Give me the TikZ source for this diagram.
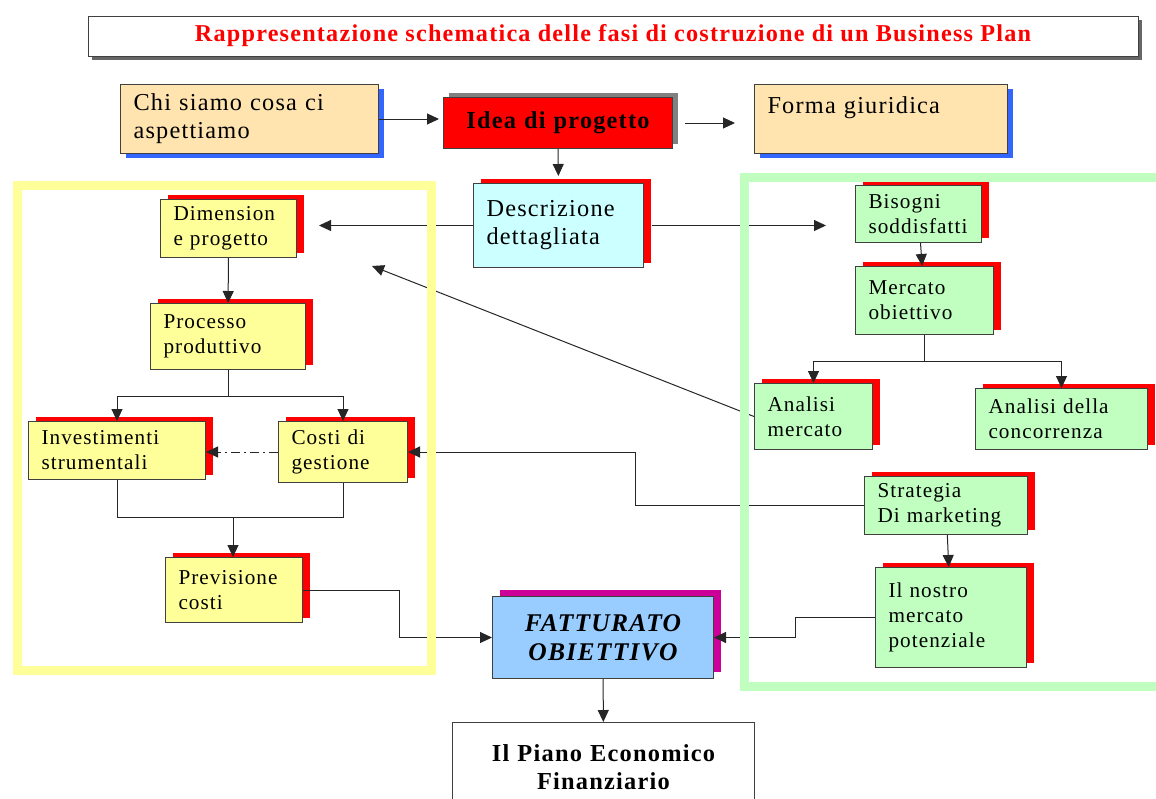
\documentclass[tikz,border=0pt]{standalone}
\usepackage{fontspec}
\setmainfont{Liberation Serif}[LetterSpace=5]
\usetikzlibrary{arrows.meta,shadows}

\definecolor{bxtan}{RGB}{255,228,176}
\definecolor{bxblue}{RGB}{51,102,255}
\definecolor{bxyel}{RGB}{255,255,153}
\definecolor{bxgrn}{RGB}{192,255,192}
\definecolor{bxcyan}{RGB}{204,255,255}
\definecolor{bxlblue}{RGB}{153,204,255}
\definecolor{bxmag}{RGB}{204,0,153}

\tikzset{
  blk/.style={draw=black!75, line width=1pt, anchor=north west, align=left,
    inner xsep=13pt, inner ysep=0pt},
  sz/.style 2 args={minimum width=#1pt, minimum height=#2pt, text width=#1pt-26pt},
  bigtxt/.style={font=\fontsize{24.3}{28}\selectfont},
  smalltxt/.style={font=\fontsize{21.2}{25}\selectfont},
  redsh/.style={general shadow={fill=red, shadow xshift=7pt, shadow yshift=5pt}},
  bluesh/.style={general shadow={fill=bxblue, shadow xshift=5pt, shadow yshift=-4pt}},
  yelbox/.style={blk, smalltxt, fill=bxyel, redsh},
  grnbox/.style={blk, smalltxt, fill=bxgrn, redsh},
  areafrm/.style={line width=9pt},
  conn/.style={draw=black!85, line width=1pt}
}

\begin{document}
\begin{tikzpicture}[x=1pt, y=-1pt, >={Triangle[length=12pt,width=11pt]}]
  \useasboundingbox (0,0) rectangle (1156,798);
  \clip (0,0) rectangle (1156,798);

  % heading
  \node[draw=black!75, line width=1pt, fill=white, minimum width=1050pt, minimum height=40pt,
    general shadow={fill=black!60, shadow xshift=4pt, shadow yshift=-4pt},
    text=red, font=\fontsize{24.2}{28}\selectfont\bfseries] (title) at (613,36)
    {Rappresentazione schematica delle fasi di costruzione di un Business Plan};

  % top row
  \node[blk, bigtxt, sz={258}{69}, fill=bxtan, bluesh] (chi) at (120,84) {Chi siamo cosa ci\\aspettiamo};
  \node[blk, sz={229}{51}, fill=red, align=center, font=\fontsize{24.3}{28}\selectfont\bfseries,
    general shadow={fill=gray, shadow xshift=5pt, shadow yshift=5pt}] (idea) at (443,97) {Idea di progetto};
  \node[blk, bigtxt, sz={253}{69}, fill=bxtan, bluesh] (forma) at (754,84) {Forma giuridica\\\mbox{}};
  \node[blk, bigtxt, sz={170}{84}, fill=bxcyan, redsh] (descr) at (473,183) {Descrizione\\dettagliata};

  % costs side
  \node[yelbox, sz={136}{58}] (dim) at (160,199) {Dimension\\e progetto};
  \node[yelbox, sz={155}{66}] (proc) at (150,303) {Processo\\produttivo};
  \node[yelbox, sz={177}{58}] (inv) at (28,421) {Investimenti\\strumentali};
  \node[yelbox, sz={129}{61}] (cost) at (278,421) {Costi di\\gestione};
  \node[yelbox, sz={137}{65}] (prev) at (165,557) {Previsione\\costi};

  % centre
  \node[blk, sz={221}{82}, fill=bxlblue, align=center, font=\fontsize{25.5}{29}\selectfont\bfseries\itshape,
    general shadow={fill=bxmag, shadow xshift=7pt, shadow yshift=7pt}] (fatt) at (492,596) {FATTURATO\\OBIETTIVO};
  \node[blk, sz={302}{90}, fill=white, align=center, font=\fontsize{24.4}{28}\selectfont\bfseries]
    (piano) at (452,722) {Il Piano Economico\\Finanziario};

  % market side
  \node[grnbox, sz={126}{57}] (bis) at (855,185) {Bisogni\\soddisfatti};
  \node[grnbox, sz={138}{68}] (merc) at (855,266) {Mercato\\obiettivo};
  \node[grnbox, sz={118}{66}] (anm) at (754,383) {Analisi\\mercato};
  \node[grnbox, sz={172}{61}] (anc) at (975,388) {Analisi della\\concorrenza};
  \node[grnbox, sz={163}{58}] (strat) at (864,476) {Strategia\\Di marketing};
  \node[grnbox, sz={151}{100}] (nostro) at (875,567) {Il nostro\\mercato\\potenziale};

  \coordinate (mrg) at (233,517);
  \coordinate (dtip) at (372,266);

  \path[->, every edge/.append style={conn}]
            (chi.east) edge[shorten >=4pt] (chi.east -| idea.west)
            ([xshift=12pt]idea.east) edge[shorten >=19pt] (idea.east -| forma.west)
            (idea.south) edge[shorten >=7pt] (descr.north)
            (descr.west) edge[shorten >=22pt] (descr.west -| dim.east)
            ([xshift=8pt]descr.east) edge[shorten >=29pt] (descr.east -| bis.west)
            (dim) edge (proc)
            (bis) edge (merc)
            (strat) edge (nostro)
            (fatt) edge (piano)
            (anm.west) edge (dtip);

  \draw[conn,->,dash pattern=on 9pt off 4pt on 2pt off 4pt] (cost.west) -- (cost.west -| inv.east);
  \draw[conn,->] (proc.south) -- ++(0,26) -| (inv.north);
  \draw[conn,->] (proc.south) ++(0,26) -| (cost.north);
  \draw[conn] (inv.south) |- (mrg);
  \draw[conn] (cost.south) |- (mrg);
  \draw[conn,->] (mrg) -- (mrg |- prev.north);
  \draw[conn,->] (prev.east) -- ++(96,0) |- (fatt.west);
  \draw[conn,->] (merc.south) -- ++(0,26) -| (anm.north);
  \draw[conn,->] (merc.south) ++(0,26) -| (anc.north);
  \draw[conn,->] (strat.west) -- ++(-229,0) |- (cost.east);
  \draw[conn,->] (nostro.west) -- ++(-80,0) |- (fatt.east);

  % the two areas
  \draw[areafrm, draw=bxyel] (17,185) rectangle (431,670);
  \draw[areafrm, draw=bxgrn] (744,177) rectangle (1180,686);
\end{tikzpicture}
\end{document}
